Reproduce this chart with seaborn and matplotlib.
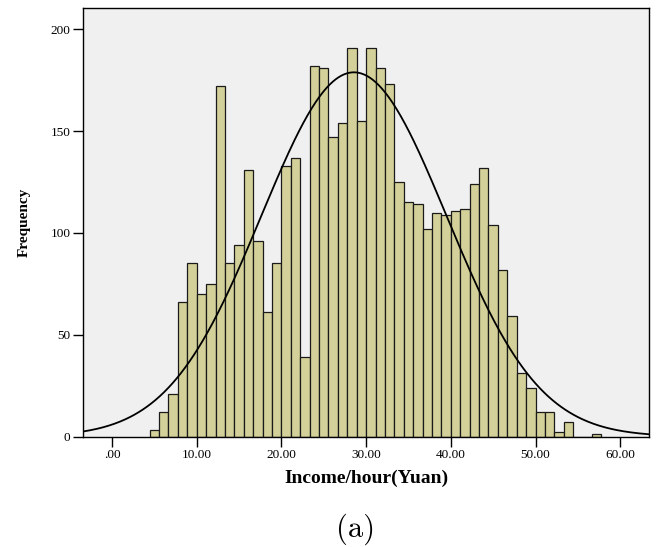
import numpy as np
import pandas as pd
import matplotlib
matplotlib.use('Agg')
import matplotlib.pyplot as plt
import seaborn as sns

# bin width 10/9 yuan, bins k = 4 .. 51
bin_width = 10 / 9
bin_index = np.arange(4, 52)
counts = [3, 12, 21, 66, 85, 70, 75, 172, 85, 94, 131, 96, 61, 85, 133, 137,
          39, 182, 181, 147, 154, 191, 155, 191, 181, 173, 125, 115, 114, 102,
          110, 109, 111, 112, 124, 132, 104, 82, 59, 31, 24, 12, 12, 2, 7, 0, 0, 1]
x_ticks = [0, 10, 20, 30, 40, 50, 60]
x_labels = ['.00', '10.00', '20.00', '30.00', '40.00', '50.00', '60.00']
y_ticks = [0, 50, 100, 150, 200]

edges = (np.append(bin_index, bin_index[-1] + 1) * bin_width).tolist()
centers = (bin_index + 0.5) * bin_width
df = pd.DataFrame({'income': centers, 'count': counts})

# normal curve fitted to the binned data
n = df['count'].sum()
mu = np.average(df['income'], weights=df['count'])
sd = np.sqrt(np.average((df['income'] - mu) ** 2, weights=df['count']))
xs = np.linspace(-3.4, 63.4, 400)
ys = n * bin_width / (sd * np.sqrt(2 * np.pi)) * np.exp(-(xs - mu) ** 2 / (2 * sd ** 2))

sns.set_style('ticks')
plt.rcParams['font.family'] = ['Liberation Serif', 'DejaVu Serif']
plt.rcParams['text.color'] = 'black'
plt.rcParams['axes.labelcolor'] = 'black'
plt.rcParams['xtick.color'] = 'black'
plt.rcParams['ytick.color'] = 'black'

fig = plt.figure(figsize=(6.68, 5.47), dpi=100)
ax = fig.add_axes([0.1243, 0.2020, 0.8473, 0.7834])
ax.set_facecolor('#f0f0f0')

sns.histplot(data=df, x='income', weights='count', bins=edges, ax=ax,
             color='#d4d09a', alpha=1, edgecolor='#1a1a1a', linewidth=0.9)
sns.lineplot(x=xs, y=ys, ax=ax, color='black', linewidth=1.3)

ax.set_xlim(-3.42, 63.4)
ax.set_ylim(0, 210.5)
ax.set_xticks(x_ticks)
ax.set_xticklabels(x_labels)
ax.set_yticks(y_ticks)
ax.tick_params(axis='both', direction='out', length=7, width=1, color='black',
               labelcolor='black', labelsize=9.5, pad=2)
for s in ax.spines.values():
    s.set_color('black')
    s.set_linewidth(1)

ax.set_xlabel('Income/hour(Yuan)', fontsize=14, fontweight='bold', labelpad=6)
ax.set_ylabel('Frequency', fontsize=11, fontweight='bold', labelpad=14)

fig.text(0.533, 0.004, '(a)', fontsize=22, family=['cmr10', 'DejaVu Serif'],
         ha='center', va='bottom')

fig.savefig('out.png', dpi=100)
